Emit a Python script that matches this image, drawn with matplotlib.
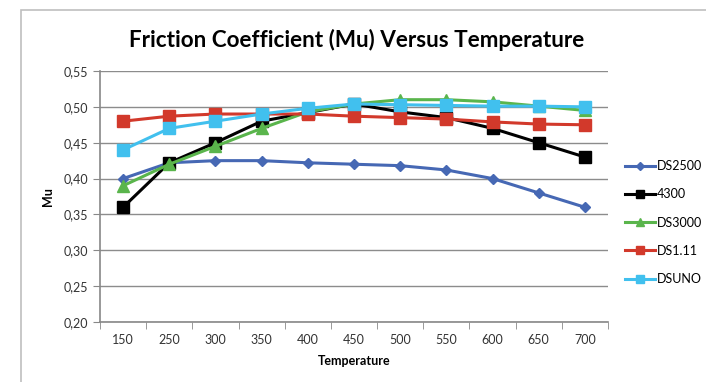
import matplotlib.pyplot as plt
from matplotlib.patches import Rectangle
from matplotlib.ticker import FuncFormatter

plt.rcParams['font.family'] = ['Lato', 'DejaVu Sans']

temps = ["150", "250", "300", "350", "400", "450", "500", "550", "600", "650", "700"]
ds2500 = [0.400, 0.422, 0.425, 0.425, 0.422, 0.420, 0.418, 0.412, 0.400, 0.380, 0.360]
s4300 = [0.360, 0.422, 0.450, 0.480, 0.492, 0.504, 0.493, 0.485, 0.470, 0.450, 0.430]
ds3000 = [0.390, 0.420, 0.445, 0.470, 0.493, 0.504, 0.510, 0.510, 0.507, 0.501, 0.495]
ds111 = [0.480, 0.487, 0.490, 0.490, 0.490, 0.487, 0.485, 0.483, 0.479, 0.476, 0.475]
dsuno = [0.440, 0.470, 0.480, 0.490, 0.498, 0.504, 0.503, 0.502, 0.501, 0.501, 0.500]

fig = plt.figure(figsize=(7.06, 3.82), dpi=100)
fig.patches.append(Rectangle((21 / 706, -0.1), 1.2, 1 - 10 / 382 + 0.1, transform=fig.transFigure,
                             fill=False, edgecolor='#bfbfbf', linewidth=1.2))
ax = fig.add_axes([100 / 706, 1 - 322 / 382, 508 / 706, 251 / 382])

x = list(range(len(temps)))
ax.plot(x, ds2500, color='#4668b4', marker='D', markersize=5.5, lw=2.2, label='DS2500')
ax.plot(x, s4300, color='black', marker='s', markersize=8, lw=2.2, label='4300')
ax.plot(x, ds3000, color='#5ab54c', marker='^', markersize=8, lw=2.2, label='DS3000')
ax.plot(x, ds111, color='#d2392b', marker='s', markersize=8, lw=2.2, label='DS1.11')
ax.plot(x, dsuno, color='#41c0ee', marker='s', markersize=8, lw=2.2, label='DSUNO')

ax.set_xlim(-0.5, len(temps) - 0.5)
ax.set_ylim(0.20, 0.55)
ax.set_yticks([0.20, 0.25, 0.30, 0.35, 0.40, 0.45, 0.50, 0.55])
ax.yaxis.set_major_formatter(FuncFormatter(lambda v, p: f"{v:.2f}".replace('.', ',')))
ax.set_xticks(x)
ax.set_xticklabels(temps)
ax.set_xticks([i - 0.5 for i in range(len(temps) + 1)], minor=True)
ax.tick_params(axis='x', which='major', length=0, pad=9, labelsize=9, colors='#333333')
ax.tick_params(axis='x', which='minor', length=5, color='#888888')
ax.tick_params(axis='y', length=5, color='#888888', labelsize=9, colors='#333333')
ax.grid(axis='y', color='#8c8c8c', linewidth=1)
ax.set_axisbelow(True)
for s in ['top', 'right']:
    ax.spines[s].set_visible(False)
ax.spines['left'].set_color('#888888')
ax.spines['bottom'].set_color('#888888')
ax.spines['left'].set_linewidth(1.2)
ax.spines['bottom'].set_linewidth(1.2)

ax.set_xlabel('Temperature', fontsize=9, fontweight='bold', labelpad=6)
ax.set_ylabel('Mu', fontsize=9, fontweight='bold', labelpad=7)
fig.text(357 / 706, 1 - 40 / 382, 'Friction Coefficient (Mu) Versus Temperature',
         ha='center', va='center', fontsize=16.2, fontweight='bold')

ax.legend(loc='upper left', bbox_to_anchor=(1.024, 0.665), frameon=False, fontsize=9,
          handlelength=2.4, handletextpad=0.1, labelspacing=1.3, borderaxespad=0,
          markerscale=0.8)

fig.savefig('out.png', dpi=100)
